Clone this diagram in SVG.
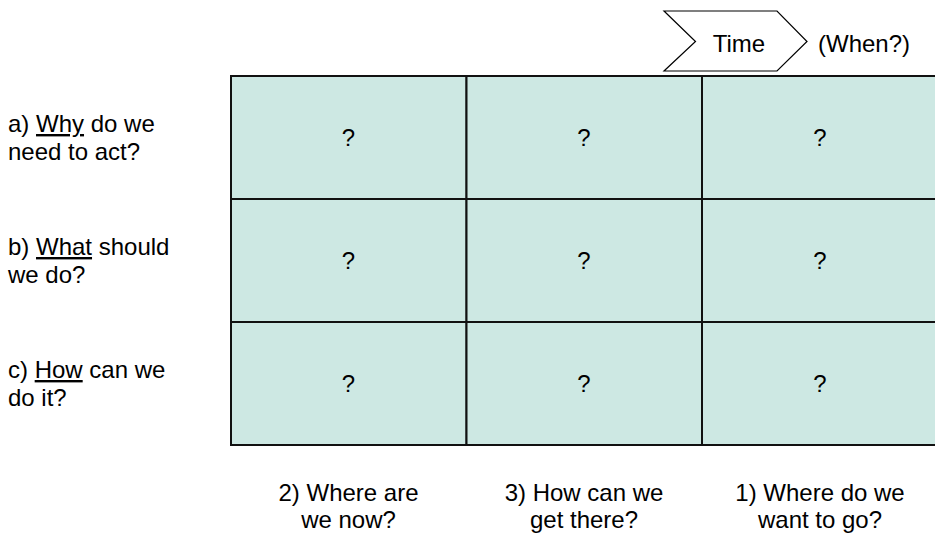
<svg xmlns="http://www.w3.org/2000/svg" width="935" height="535" viewBox="0 0 935 535">
<style>
text{font-family:"Liberation Sans",Arial,sans-serif;font-size:24px;fill:#000}
.c{text-anchor:middle}
.cell{fill:#cde8e3;stroke:#111;stroke-width:2}
.u{text-decoration:underline}
.chev{fill:#fff;stroke:#000;stroke-width:1.2}
</style>
<rect width="935" height="535" fill="#fff"/>
<g id="time">
<polygon class="chev" points="664,11 777,11 807,41.5 777,71 664,71 695.5,41.5"/>
<text class="c" x="739" y="52">Time</text>
</g>
<text id="when" x="818" y="52">(When?)</text>
<g id="cell-a1"><rect class="cell" x="231" y="76" width="235.5" height="123"/><text class="c" x="348.5" y="146">?</text></g>
<g id="cell-a2"><rect class="cell" x="466.5" y="76" width="235.5" height="123"/><text class="c" x="584" y="146">?</text></g>
<g id="cell-a3"><rect class="cell" x="702" y="76" width="236" height="123"/><text class="c" x="820" y="146">?</text></g>
<g id="cell-b1"><rect class="cell" x="231" y="199" width="235.5" height="123"/><text class="c" x="348.5" y="269">?</text></g>
<g id="cell-b2"><rect class="cell" x="466.5" y="199" width="235.5" height="123"/><text class="c" x="584" y="269">?</text></g>
<g id="cell-b3"><rect class="cell" x="702" y="199" width="236" height="123"/><text class="c" x="820" y="269">?</text></g>
<g id="cell-c1"><rect class="cell" x="231" y="322" width="235.5" height="123"/><text class="c" x="348.5" y="392">?</text></g>
<g id="cell-c2"><rect class="cell" x="466.5" y="322" width="235.5" height="123"/><text class="c" x="584" y="392">?</text></g>
<g id="cell-c3"><rect class="cell" x="702" y="322" width="236" height="123"/><text class="c" x="820" y="392">?</text></g>
<g id="row-a"><text x="8" y="132">a) <tspan class="u">Why</tspan> do we</text><text x="8" y="160">need to act?</text></g>
<g id="row-b"><text x="8" y="255">b) <tspan class="u">What</tspan> should</text><text x="8" y="283">we do?</text></g>
<g id="row-c"><text x="8" y="378">c) <tspan class="u">How</tspan> can we</text><text x="8" y="406">do it?</text></g>
<g id="col-2"><text class="c" x="348.5" y="501">2) Where are</text><text class="c" x="348.5" y="528">we now?</text></g>
<g id="col-3"><text class="c" x="584" y="501">3) How can we</text><text class="c" x="584" y="528">get there?</text></g>
<g id="col-1"><text class="c" x="820" y="501">1) Where do we</text><text class="c" x="820" y="528">want to go?</text></g>
<g id="connectors"/>
</svg>
